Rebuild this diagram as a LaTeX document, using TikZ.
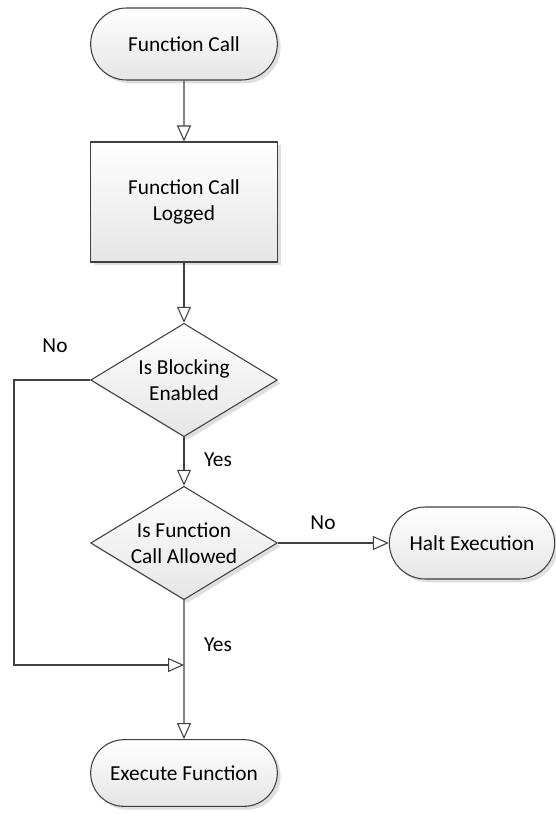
\documentclass[tikz,border=0pt]{standalone}
\usepackage{fontspec}
\setmainfont{Carlito}
\usetikzlibrary{shapes.misc, shapes.geometric, arrows.meta, shadows}
\tikzset{
    base/.style={draw=black!75, line width=0.8pt, top color=white, bottom color=black!10,
        drop shadow={shadow xshift=2.5pt, shadow yshift=-2.5pt, fill=black!25, opacity=0.5},
        align=center, font=\fontsize{16}{19.5}\selectfont, inner sep=0pt},
    term/.style={base, rounded rectangle, minimum width=140pt, minimum height=54pt},
    proc/.style={base, rectangle, minimum width=140pt, minimum height=90pt},
    decide/.style={base, diamond, aspect=1.65, minimum width=140pt, minimum height=85pt},
    flow/.style={draw=black!75, line width=0.8pt, -{Triangle[open, length=12pt, width=10.5pt]}},
    lbl/.style={font=\fontsize{16}{19.5}\selectfont}
}
\begin{document}
\begin{tikzpicture}[x=0.75pt, y=-0.75pt]
        \useasboundingbox (0,0) rectangle (556,814);
        %blocchi
        \node[term] (call) at (184,44) {Function Call};
        \node[proc] (logged) at (184,202) {Function Call\\Logged};
        \node[decide] (blocking) at (184,380) {Is Blocking\\Enabled};
        \node[decide] (allowed) at (184,543) {Is Function\\Call Allowed};
        \node[term, minimum width=124pt] (halt) at (472,543) {Halt Execution};
        \node[term, minimum width=140pt, minimum height=50pt] (exec) at (184,773) {Execute Function};
        %punti di passaggio
        \coordinate (bend) at (14,380);
        \coordinate (join) at (184,665);
        %frecce
        \draw[flow] (call) -- (logged);
        \draw[flow] (logged) -- (blocking);
        \draw[flow] (blocking) -- (allowed);
        \draw[flow] (allowed) -- (halt);
        \draw[flow] (allowed) -- (exec);
        \draw[flow] (blocking.west) -- (bend) |- (join);
        %etichette
        \node[lbl] (noblock) at (55,346) {No};
        \node[lbl] (yesblock) at (218,460) {Yes};
        \node[lbl] (noallow) at (323,523) {No};
        \node[lbl] (yesallow) at (218,645) {Yes};
    \end{tikzpicture}
\end{document}
